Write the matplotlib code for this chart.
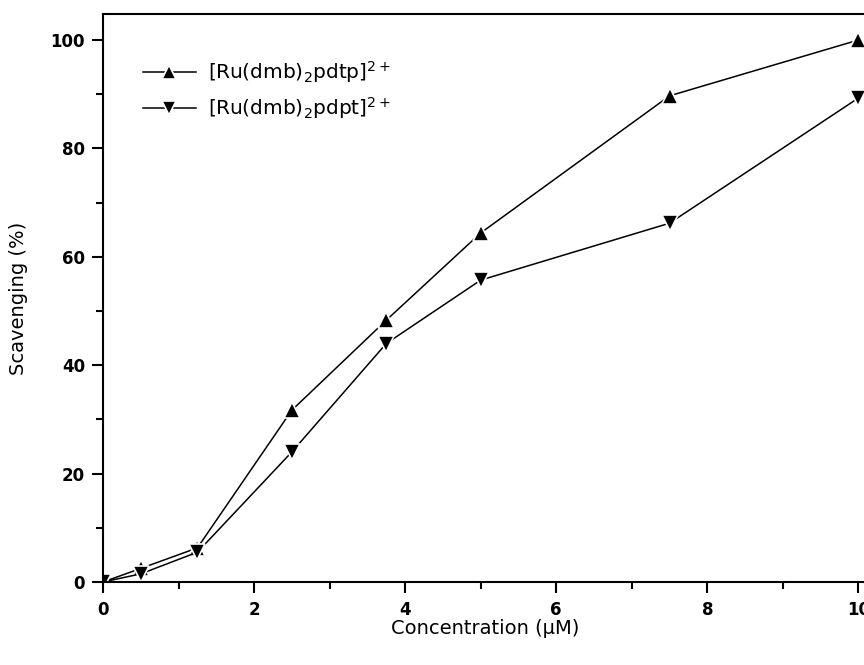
import matplotlib
matplotlib.use("Agg")
import matplotlib.pyplot as plt
from matplotlib.ticker import MultipleLocator

conc = [0, 0.5, 1.25, 2.5, 3.75, 5, 7.5, 10]
pdtp = [0, 2.5, 6.3, 31.7, 48.3, 64.4, 89.7, 100]
pdpt = [0, 1.5, 5.5, 24.0, 44.0, 55.7, 66.2, 89.3]
labels = [r'[Ru(dmb)$_{2}$pdtp]$^{2+}$', r'[Ru(dmb)$_{2}$pdpt]$^{2+}$']
xticks = [0, 2, 4, 6, 8, 10]
yticks = [0, 20, 40, 60, 80, 100]

plt.rcParams['font.family'] = ['DejaVu Sans']
fig = plt.figure(figsize=(8.64, 6.65), dpi=100)
ax = fig.add_axes([103/864, 1-582/665, 1-103/864 + 0.004, (582-14)/665])

kw = dict(color='black', lw=1.1, ms=12, mec='white', mew=1.2, mfc='black')
ax.plot(conc, pdtp, marker='^', label=labels[0], **kw)
ax.plot(conc, pdpt, marker='v', label=labels[1], **kw)

ax.set_xlim(0, 10.12)
ax.set_ylim(0, 104.8)
ax.set_xticks(xticks)
ax.set_yticks(yticks)
ax.xaxis.set_minor_locator(MultipleLocator(1))
ax.yaxis.set_minor_locator(MultipleLocator(10))
ax.tick_params(which='major', direction='out', length=8, width=1.5, labelsize=12)
ax.tick_params(which='minor', direction='out', length=5, width=1.5)
ax.tick_params(axis='x', pad=6)
ax.tick_params(axis='y', pad=5)
for lab in ax.get_xticklabels() + ax.get_yticklabels():
    lab.set_fontweight('bold')
for sp in ax.spines.values():
    sp.set_linewidth(1.5)

ax.set_xlabel('Concentration (μM)', fontsize=14, labelpad=0)
ax.set_ylabel('Scavenging (%)', fontsize=14, labelpad=16)

leg = ax.legend(loc='upper left', bbox_to_anchor=(0.042, 0.935), frameon=False,
                fontsize=14.5, handlelength=2.6, handletextpad=0.6, labelspacing=0.5,
                markerscale=0.8, borderaxespad=0)

fig.savefig('out.png', dpi=100)
